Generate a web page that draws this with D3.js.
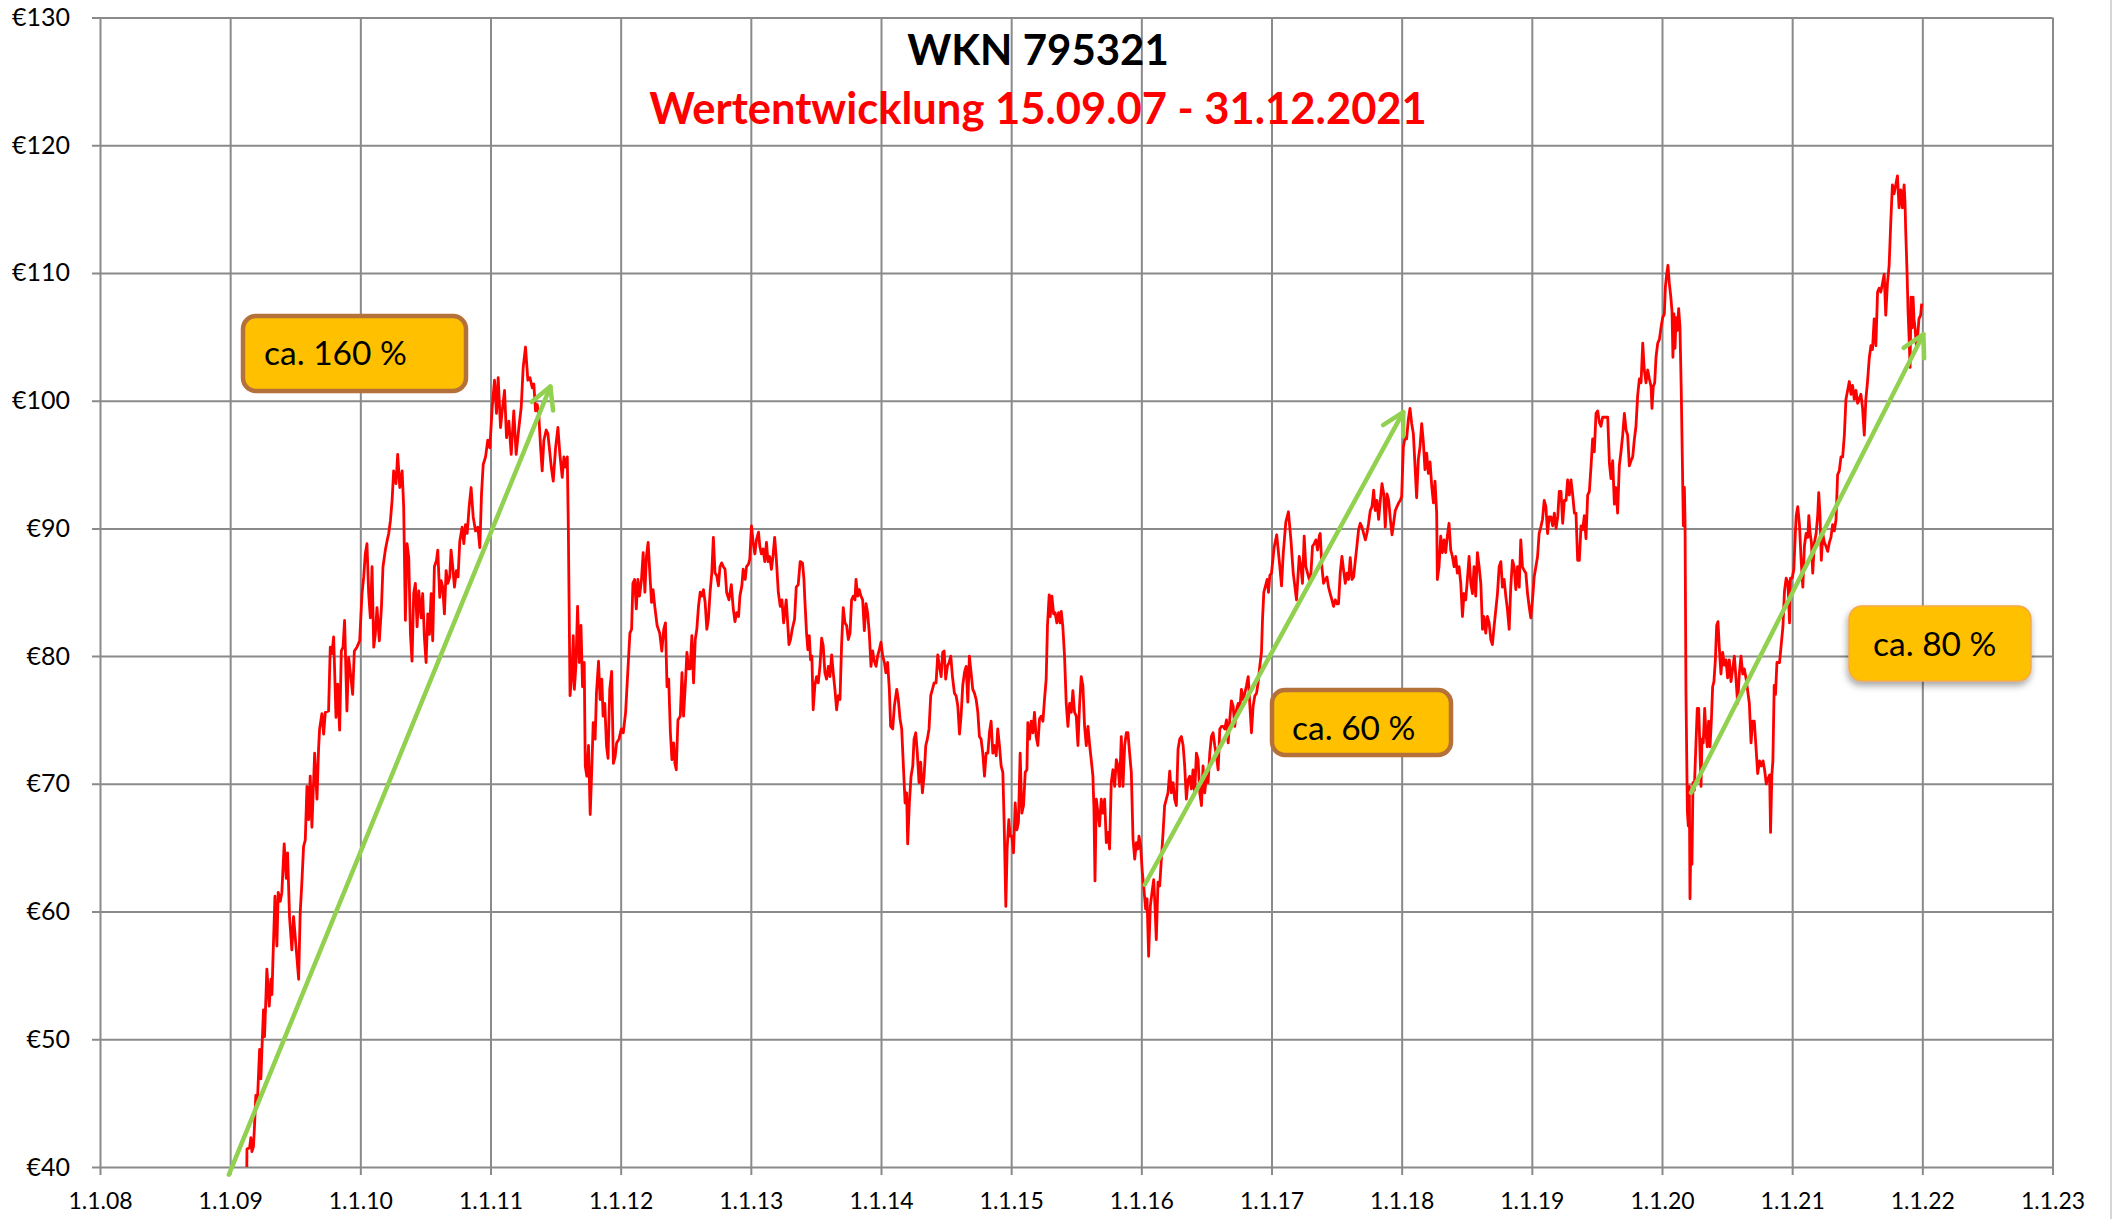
<!DOCTYPE html>
<html><head><meta charset="utf-8">
<script src="https://cdn.jsdelivr.net/npm/d3@7"></script>
<style>
html,body{margin:0;padding:0;background:#fff;}
svg{display:block;font-family:Lato,"Open Sans",sans-serif;}
</style></head>
<body>
<svg id="chart" width="2116" height="1219"></svg>
<script>
// ---------- DATA (decimal year, price in EUR) ----------
const p2009 = [[2009.128,40.0],[2009.129,41.4],[2009.149,41.5],[2009.159,42.3],[2009.167,41.2],[2009.179,41.6],[2009.187,43.2],[2009.197,45.6],[2009.210,45.3],[2009.226,49.2],[2009.236,46.9],[2009.244,49.2],[2009.256,52.3],[2009.264,50.2],[2009.274,53.1],[2009.282,55.5],[2009.300,52.6],[2009.313,54.7],[2009.321,53.5],[2009.328,56.0],[2009.344,61.2],[2009.359,57.3],[2009.369,61.5],[2009.385,60.8],[2009.397,61.5],[2009.415,65.3],[2009.431,62.6],[2009.441,64.6],[2009.456,59.6],[2009.474,57.0],[2009.487,59.6],[2009.508,57.0],[2009.526,54.7],[2009.538,59.9],[2009.551,62.3],[2009.564,65.1],[2009.577,65.6],[2009.590,69.8],[2009.603,67.2],[2009.615,70.6],[2009.628,66.6],[2009.649,72.4],[2009.667,68.8],[2009.679,72.7],[2009.687,74.3],[2009.705,75.5],[2009.718,73.9],[2009.731,75.6],[2009.756,75.7],[2009.769,80.7],[2009.782,80.2],[2009.795,81.5],[2009.813,75.2],[2009.826,77.8],[2009.841,74.2],[2009.854,80.4],[2009.867,80.7],[2009.879,82.8],[2009.897,75.7],[2009.910,79.9],[2009.928,78.3],[2009.941,77.0],[2009.954,80.4],[2009.974,80.7],[2009.995,81.2]];
const p2010 = [[2010.013,84.9],[2010.026,86.2],[2010.038,88.0],[2010.051,88.8],[2010.064,84.9],[2010.077,83.0],[2010.090,87.0],[2010.103,80.7],[2010.115,81.7],[2010.128,83.8],[2010.146,81.2],[2010.162,83.8],[2010.174,87.0],[2010.192,88.3],[2010.205,89.0],[2010.218,89.6],[2010.231,90.6],[2010.244,92.2],[2010.256,94.5],[2010.274,93.5],[2010.287,95.8],[2010.303,93.2],[2010.321,94.5],[2010.333,91.7],[2010.346,82.8],[2010.359,88.8],[2010.372,87.7],[2010.385,81.7],[2010.397,79.6],[2010.410,84.9],[2010.423,85.7],[2010.436,82.3],[2010.449,85.1],[2010.467,83.0],[2010.479,84.9],[2010.492,81.5],[2010.505,79.5],[2010.518,83.3],[2010.531,81.7],[2010.544,84.9],[2010.556,81.2],[2010.569,87.0],[2010.585,87.5],[2010.595,88.3],[2010.610,84.6],[2010.621,85.9],[2010.633,85.4],[2010.646,83.3],[2010.659,86.7],[2010.672,85.7],[2010.687,86.2],[2010.697,88.3],[2010.710,87.0],[2010.723,85.4],[2010.738,86.7],[2010.751,86.2],[2010.764,89.0],[2010.782,90.1],[2010.795,88.8],[2010.808,90.3],[2010.821,89.6],[2010.836,91.7],[2010.851,93.2],[2010.867,90.9],[2010.885,89.8],[2010.903,90.1],[2010.918,88.5],[2010.931,92.7],[2010.944,95.0],[2010.962,95.6],[2010.979,96.9],[2010.995,96.3]];
const p2011 = [[2011.013,99.5],[2011.031,101.6],[2011.046,99.0],[2011.059,101.8],[2011.077,97.9],[2011.090,99.2],[2011.108,100.8],[2011.123,97.1],[2011.141,98.4],[2011.159,95.8],[2011.179,99.2],[2011.197,95.8],[2011.218,97.9],[2011.236,99.5],[2011.251,102.6],[2011.269,104.2],[2011.287,101.6],[2011.303,101.8],[2011.321,101.0],[2011.333,101.3],[2011.346,99.2],[2011.359,99.7],[2011.372,98.7],[2011.385,96.3],[2011.397,94.5],[2011.410,96.9],[2011.428,97.7],[2011.441,97.4],[2011.454,96.1],[2011.467,94.8],[2011.482,93.7],[2011.500,96.3],[2011.518,97.9],[2011.533,95.8],[2011.551,94.0],[2011.564,95.6],[2011.577,94.8],[2011.590,95.6],[2011.598,90.0],[2011.611,76.9],[2011.626,78.7],[2011.636,81.6],[2011.644,77.4],[2011.656,79.2],[2011.669,83.9],[2011.682,79.5],[2011.695,82.4],[2011.707,77.6],[2011.720,79.5],[2011.728,71.4],[2011.740,70.6],[2011.753,73.0],[2011.766,67.6],[2011.779,71.4],[2011.789,74.8],[2011.804,73.5],[2011.814,77.1],[2011.830,79.6],[2011.842,76.6],[2011.855,78.2],[2011.865,75.3],[2011.878,76.3],[2011.891,73.0],[2011.903,72.0],[2011.916,77.4],[2011.931,78.8],[2011.944,71.6],[2011.957,72.1],[2011.969,73.2],[2011.987,73.5]];
const p2012 = [[2012.005,74.3],[2012.020,74.0],[2012.038,75.6],[2012.056,79.0],[2012.071,81.8],[2012.084,82.1],[2012.094,85.7],[2012.107,86.0],[2012.120,83.7],[2012.132,86.0],[2012.145,84.7],[2012.160,86.0],[2012.173,88.1],[2012.186,85.0],[2012.198,87.8],[2012.211,88.9],[2012.224,86.5],[2012.237,84.2],[2012.249,85.2],[2012.262,83.9],[2012.280,82.4],[2012.300,81.8],[2012.316,80.4],[2012.331,82.1],[2012.344,82.6],[2012.356,77.6],[2012.369,78.2],[2012.382,74.0],[2012.394,71.9],[2012.407,73.2],[2012.417,71.6],[2012.427,71.1],[2012.440,75.0],[2012.458,75.3],[2012.471,78.7],[2012.483,75.3],[2012.496,77.6],[2012.509,80.3],[2012.522,79.0],[2012.534,79.0],[2012.547,81.6],[2012.560,77.9],[2012.573,81.3],[2012.585,82.1],[2012.598,83.9],[2012.611,85.0],[2012.623,84.7],[2012.636,85.2],[2012.649,84.2],[2012.662,82.1],[2012.674,82.9],[2012.687,85.0],[2012.700,86.5],[2012.712,89.3],[2012.725,86.5],[2012.738,86.3],[2012.751,85.5],[2012.763,87.0],[2012.776,87.3],[2012.789,87.0],[2012.802,86.8],[2012.814,85.0],[2012.832,84.4],[2012.850,85.6],[2012.865,83.7],[2012.878,82.7],[2012.891,83.4],[2012.906,83.1],[2012.916,84.7],[2012.931,85.5],[2012.941,86.8],[2012.957,86.0],[2012.967,87.0],[2012.982,87.2],[2012.992,87.6]];
const p2013 = [[2013.005,90.2],[2013.018,88.9],[2013.031,88.0],[2013.043,89.1],[2013.059,89.7],[2013.069,88.6],[2013.081,88.0],[2013.094,88.4],[2013.107,87.4],[2013.120,88.9],[2013.132,87.4],[2013.145,87.8],[2013.158,86.8],[2013.170,87.8],[2013.183,89.3],[2013.196,87.6],[2013.211,85.0],[2013.226,83.9],[2013.239,84.4],[2013.252,82.6],[2013.272,84.4],[2013.293,80.9],[2013.305,81.3],[2013.318,82.1],[2013.336,82.9],[2013.349,85.4],[2013.364,85.6],[2013.379,87.4],[2013.397,87.3],[2013.408,86.0],[2013.415,84.4],[2013.428,81.8],[2013.438,80.5],[2013.449,81.6],[2013.459,79.7],[2013.469,80.0],[2013.479,75.8],[2013.492,77.7],[2013.505,78.4],[2013.518,77.9],[2013.531,79.2],[2013.544,81.4],[2013.556,80.8],[2013.569,78.7],[2013.582,78.2],[2013.595,79.2],[2013.608,78.4],[2013.621,80.1],[2013.633,78.7],[2013.646,77.4],[2013.659,75.8],[2013.672,76.9],[2013.685,76.6],[2013.697,80.8],[2013.710,83.8],[2013.723,82.6],[2013.736,82.4],[2013.749,81.3],[2013.762,81.8],[2013.774,84.4],[2013.787,84.7],[2013.800,84.4],[2013.808,86.0],[2013.821,84.7],[2013.833,85.2],[2013.846,84.7],[2013.859,84.4],[2013.872,82.0],[2013.885,84.1],[2013.897,83.4],[2013.910,81.8],[2013.923,79.2],[2013.936,80.4],[2013.946,79.7],[2013.962,79.2],[2013.974,80.0],[2013.987,80.5]];
const p2014 = [[2014.000,81.1],[2014.013,80.0],[2014.026,79.5],[2014.038,78.7],[2014.051,79.5],[2014.064,77.4],[2014.074,74.5],[2014.090,74.3],[2014.103,76.1],[2014.121,77.4],[2014.133,76.6],[2014.146,75.1],[2014.159,74.3],[2014.172,71.4],[2014.185,68.5],[2014.197,69.3],[2014.205,65.3],[2014.218,68.5],[2014.231,70.6],[2014.244,71.4],[2014.254,73.5],[2014.267,74.0],[2014.279,72.4],[2014.292,70.1],[2014.305,71.7],[2014.318,69.3],[2014.331,70.6],[2014.344,73.0],[2014.356,73.5],[2014.369,74.3],[2014.382,76.9],[2014.395,77.4],[2014.408,77.9],[2014.423,77.9],[2014.436,80.1],[2014.449,79.2],[2014.462,78.4],[2014.474,80.3],[2014.485,80.4],[2014.497,78.2],[2014.510,79.2],[2014.523,79.5],[2014.536,80.0],[2014.549,78.4],[2014.564,77.1],[2014.577,76.9],[2014.590,76.1],[2014.603,73.9],[2014.615,75.3],[2014.628,77.7],[2014.641,78.7],[2014.654,79.2],[2014.667,76.4],[2014.679,80.0],[2014.692,78.7],[2014.705,77.4],[2014.718,77.1],[2014.731,76.6],[2014.744,75.6],[2014.756,73.7],[2014.769,73.5],[2014.782,72.4],[2014.795,70.6],[2014.808,72.4],[2014.821,72.4],[2014.833,74.0],[2014.846,74.9],[2014.859,72.4],[2014.872,73.0],[2014.885,72.2],[2014.897,74.3],[2014.910,73.0],[2014.923,71.4],[2014.936,70.9],[2014.946,67.0],[2014.959,60.4],[2014.969,64.9],[2014.982,67.2],[2014.992,65.9]];
const p2015 = [[2015.005,65.9],[2015.018,64.6],[2015.031,68.5],[2015.044,66.4],[2015.056,67.0],[2015.069,72.4],[2015.082,67.7],[2015.095,68.3],[2015.108,70.9],[2015.121,71.1],[2015.128,74.8],[2015.141,73.5],[2015.154,74.9],[2015.167,74.0],[2015.179,75.6],[2015.192,73.7],[2015.205,73.0],[2015.218,75.1],[2015.231,75.3],[2015.244,74.9],[2015.256,76.6],[2015.269,78.2],[2015.279,82.4],[2015.292,84.8],[2015.300,83.1],[2015.313,84.7],[2015.326,83.3],[2015.338,83.4],[2015.351,82.6],[2015.364,83.4],[2015.377,82.6],[2015.385,83.5],[2015.397,82.3],[2015.410,80.0],[2015.423,76.3],[2015.436,74.5],[2015.449,76.3],[2015.462,75.6],[2015.474,77.3],[2015.487,75.6],[2015.500,75.3],[2015.513,73.0],[2015.526,76.3],[2015.538,78.4],[2015.551,77.7],[2015.564,74.5],[2015.577,73.0],[2015.590,74.5],[2015.603,73.0],[2015.615,71.9],[2015.628,70.6],[2015.636,68.0],[2015.644,62.4],[2015.654,68.8],[2015.667,67.7],[2015.679,66.7],[2015.692,68.8],[2015.705,67.7],[2015.718,68.8],[2015.731,65.4],[2015.744,66.2],[2015.756,64.9],[2015.769,70.1],[2015.782,71.1],[2015.795,69.8],[2015.808,71.9],[2015.821,71.4],[2015.833,69.8],[2015.846,73.7],[2015.859,69.8],[2015.872,73.0],[2015.885,74.0],[2015.897,74.0],[2015.910,72.4],[2015.923,70.9],[2015.936,65.7],[2015.949,64.1],[2015.962,65.4],[2015.974,64.9],[2015.982,65.9],[2015.995,65.1]];
const p2016 = [[2016.008,63.0],[2016.018,62.0],[2016.033,60.2],[2016.044,61.0],[2016.056,56.5],[2016.069,60.4],[2016.082,61.5],[2016.095,62.5],[2016.105,60.4],[2016.115,57.8],[2016.128,62.3],[2016.141,62.0],[2016.154,64.1],[2016.167,66.2],[2016.179,68.3],[2016.192,68.8],[2016.205,69.3],[2016.218,71.0],[2016.231,69.3],[2016.244,70.1],[2016.256,68.8],[2016.269,68.3],[2016.282,72.7],[2016.295,73.5],[2016.308,73.7],[2016.321,73.0],[2016.333,71.4],[2016.346,68.8],[2016.359,70.3],[2016.372,70.6],[2016.385,69.6],[2016.397,71.1],[2016.410,69.3],[2016.423,72.4],[2016.436,71.9],[2016.449,69.3],[2016.462,68.3],[2016.474,71.4],[2016.487,69.3],[2016.500,70.6],[2016.513,70.1],[2016.526,72.4],[2016.538,73.7],[2016.551,74.0],[2016.564,73.0],[2016.577,72.2],[2016.590,71.1],[2016.603,74.3],[2016.615,74.5],[2016.628,74.5],[2016.641,74.3],[2016.654,75.0],[2016.667,73.2],[2016.679,75.0],[2016.692,76.5],[2016.705,76.1],[2016.718,74.5],[2016.731,75.8],[2016.744,76.3],[2016.756,75.8],[2016.769,77.4],[2016.782,76.6],[2016.795,77.1],[2016.808,77.7],[2016.821,78.4],[2016.833,76.3],[2016.846,74.0],[2016.859,76.1],[2016.872,76.9],[2016.885,77.1],[2016.897,77.9],[2016.910,79.2],[2016.923,80.3],[2016.931,82.9],[2016.941,85.0],[2016.954,85.5],[2016.967,86.0],[2016.977,85.0],[2016.987,86.3]];
const p2017 = [[2017.000,86.5],[2017.020,88.5],[2017.040,89.5],[2017.064,87.0],[2017.077,85.5],[2017.090,88.0],[2017.110,90.5],[2017.130,91.3],[2017.150,89.0],[2017.167,86.5],[2017.192,84.4],[2017.205,86.5],[2017.213,87.8],[2017.226,87.0],[2017.238,85.7],[2017.251,89.4],[2017.264,87.0],[2017.277,86.5],[2017.290,86.0],[2017.303,86.5],[2017.315,88.6],[2017.328,88.8],[2017.341,89.1],[2017.354,88.3],[2017.367,89.4],[2017.374,89.6],[2017.387,87.0],[2017.400,85.7],[2017.413,86.0],[2017.426,86.2],[2017.438,85.4],[2017.451,84.9],[2017.464,84.4],[2017.477,83.9],[2017.490,84.4],[2017.503,84.1],[2017.515,84.1],[2017.528,86.5],[2017.541,87.8],[2017.554,86.7],[2017.567,85.7],[2017.579,86.5],[2017.592,86.0],[2017.605,87.7],[2017.618,86.0],[2017.631,86.2],[2017.644,87.5],[2017.656,88.6],[2017.669,89.9],[2017.682,90.4],[2017.695,90.1],[2017.708,89.6],[2017.721,89.1],[2017.733,89.6],[2017.746,90.4],[2017.759,91.4],[2017.772,91.7],[2017.785,93.0],[2017.797,91.4],[2017.810,92.2],[2017.823,90.7],[2017.836,92.2],[2017.849,93.5],[2017.862,92.7],[2017.874,90.1],[2017.887,92.7],[2017.900,92.2],[2017.913,90.7],[2017.926,89.5],[2017.938,90.4],[2017.951,91.4],[2017.964,91.7],[2017.977,92.0],[2017.990,92.2]];
const p2018 = [[2018.000,92.5],[2018.013,96.4],[2018.026,97.1],[2018.038,97.0],[2018.051,98.5],[2018.064,99.4],[2018.077,98.2],[2018.090,97.4],[2018.103,94.8],[2018.115,92.4],[2018.128,95.4],[2018.141,96.4],[2018.154,98.2],[2018.167,96.7],[2018.179,94.6],[2018.192,95.9],[2018.205,94.3],[2018.218,95.2],[2018.231,93.3],[2018.244,92.0],[2018.256,93.7],[2018.269,91.2],[2018.274,86.0],[2018.287,87.0],[2018.300,89.4],[2018.313,88.1],[2018.326,89.1],[2018.338,88.1],[2018.351,89.4],[2018.364,90.4],[2018.377,88.3],[2018.390,87.8],[2018.403,87.0],[2018.415,87.8],[2018.428,86.5],[2018.441,87.0],[2018.454,85.7],[2018.467,83.1],[2018.479,84.9],[2018.492,84.4],[2018.505,86.0],[2018.518,87.8],[2018.531,85.7],[2018.544,84.9],[2018.556,87.0],[2018.569,84.7],[2018.582,88.1],[2018.595,87.0],[2018.608,85.7],[2018.621,82.1],[2018.633,83.1],[2018.646,81.8],[2018.659,83.1],[2018.672,82.6],[2018.685,81.3],[2018.697,80.9],[2018.710,82.3],[2018.723,83.6],[2018.736,84.9],[2018.749,87.0],[2018.762,87.4],[2018.774,85.4],[2018.787,86.0],[2018.800,84.7],[2018.813,83.6],[2018.826,82.1],[2018.838,85.4],[2018.851,87.5],[2018.864,87.0],[2018.877,85.2],[2018.890,87.0],[2018.903,85.4],[2018.915,89.1],[2018.928,87.0],[2018.941,86.7],[2018.954,86.5],[2018.967,84.9],[2018.979,83.9],[2018.992,83.0]];
const p2019 = [[2019.005,84.4],[2019.018,86.2],[2019.031,87.0],[2019.044,87.8],[2019.056,89.6],[2019.069,90.1],[2019.082,90.7],[2019.095,92.2],[2019.108,91.7],[2019.121,89.6],[2019.133,90.9],[2019.147,90.9],[2019.160,90.2],[2019.173,91.2],[2019.186,90.0],[2019.199,90.9],[2019.211,92.9],[2019.224,92.9],[2019.237,90.4],[2019.250,92.2],[2019.263,92.2],[2019.275,93.8],[2019.288,92.6],[2019.301,93.8],[2019.314,92.6],[2019.327,91.2],[2019.339,91.2],[2019.352,87.5],[2019.365,87.5],[2019.378,90.2],[2019.391,89.9],[2019.403,91.0],[2019.416,89.2],[2019.429,92.6],[2019.442,92.9],[2019.455,94.9],[2019.467,97.0],[2019.480,96.0],[2019.493,99.0],[2019.506,99.2],[2019.519,98.3],[2019.531,98.0],[2019.544,98.7],[2019.570,98.7],[2019.583,98.7],[2019.596,95.1],[2019.608,93.9],[2019.621,95.3],[2019.634,91.9],[2019.647,93.2],[2019.659,91.2],[2019.672,94.9],[2019.685,96.0],[2019.698,97.3],[2019.711,99.0],[2019.724,97.7],[2019.736,97.3],[2019.749,94.9],[2019.762,95.3],[2019.775,95.6],[2019.788,97.0],[2019.800,98.0],[2019.813,100.4],[2019.826,101.7],[2019.839,101.4],[2019.852,104.5],[2019.864,102.4],[2019.877,101.4],[2019.890,102.4],[2019.903,101.7],[2019.916,101.1],[2019.923,99.4],[2019.933,101.1],[2019.944,101.4],[2019.954,103.4],[2019.967,104.5],[2019.980,104.8],[2019.992,105.7]];
const p2020 = [[2020.005,106.5],[2020.018,106.8],[2020.026,108.9],[2020.036,109.9],[2020.046,110.6],[2020.056,109.2],[2020.067,108.2],[2020.077,107.0],[2020.084,103.4],[2020.092,106.8],[2020.100,104.1],[2020.108,106.5],[2020.118,105.5],[2020.128,107.2],[2020.138,105.8],[2020.148,100.7],[2020.156,95.6],[2020.164,90.2],[2020.172,93.2],[2020.177,90.5],[2020.184,77.3],[2020.195,67.8],[2020.202,66.7],[2020.210,69.8],[2020.215,61.0],[2020.223,66.4],[2020.230,63.7],[2020.238,70.1],[2020.248,69.5],[2020.261,73.2],[2020.271,75.9],[2020.282,75.9],[2020.292,72.5],[2020.300,69.8],[2020.307,73.5],[2020.317,73.2],[2020.328,75.9],[2020.338,73.9],[2020.348,72.9],[2020.358,74.9],[2020.369,72.9],[2020.379,74.9],[2020.389,77.6],[2020.399,78.0],[2020.410,79.7],[2020.420,82.4],[2020.430,82.7],[2020.440,80.7],[2020.453,78.6],[2020.466,80.3],[2020.479,79.3],[2020.492,79.7],[2020.504,78.3],[2020.517,79.7],[2020.530,78.0],[2020.543,79.0],[2020.556,80.0],[2020.568,78.3],[2020.581,76.3],[2020.594,78.6],[2020.607,80.0],[2020.620,78.6],[2020.632,79.0],[2020.645,78.3],[2020.658,77.3],[2020.671,76.3],[2020.684,73.2],[2020.696,74.9],[2020.709,74.9],[2020.722,72.9],[2020.735,70.8],[2020.750,71.8],[2020.763,71.4],[2020.776,71.8],[2020.788,71.1],[2020.801,70.0],[2020.814,70.4],[2020.827,70.7],[2020.834,66.2],[2020.844,70.7],[2020.852,71.8],[2020.862,77.7],[2020.872,77.0],[2020.883,79.5],[2020.893,79.5],[2020.903,79.5],[2020.916,80.9],[2020.929,82.3],[2020.941,85.1],[2020.954,86.1],[2020.967,85.8],[2020.980,82.6],[2020.987,86.1]];
const p2021 = [[2021.000,86.1],[2021.013,86.8],[2021.023,89.3],[2021.031,91.0],[2021.043,91.7],[2021.056,90.3],[2021.069,87.5],[2021.082,85.4],[2021.094,88.6],[2021.107,89.6],[2021.120,89.3],[2021.128,91.0],[2021.138,89.6],[2021.148,88.9],[2021.158,86.5],[2021.171,88.9],[2021.184,89.6],[2021.196,91.0],[2021.204,92.8],[2021.214,91.0],[2021.224,87.5],[2021.235,89.6],[2021.247,88.9],[2021.260,88.6],[2021.273,88.2],[2021.286,88.9],[2021.298,89.3],[2021.311,90.3],[2021.324,89.8],[2021.337,90.7],[2021.349,94.2],[2021.362,94.5],[2021.375,95.6],[2021.388,95.6],[2021.401,97.3],[2021.413,100.1],[2021.426,100.8],[2021.439,101.5],[2021.452,100.5],[2021.464,101.2],[2021.477,100.1],[2021.490,100.8],[2021.503,99.8],[2021.515,100.1],[2021.528,100.5],[2021.541,99.4],[2021.554,97.3],[2021.566,100.1],[2021.579,101.5],[2021.592,103.3],[2021.605,104.3],[2021.617,104.0],[2021.630,106.4],[2021.643,104.3],[2021.656,108.5],[2021.668,108.8],[2021.681,108.5],[2021.694,109.2],[2021.707,109.9],[2021.719,106.7],[2021.732,109.2],[2021.745,110.6],[2021.758,114.1],[2021.770,116.9],[2021.783,116.2],[2021.796,116.9],[2021.809,117.6],[2021.821,115.1],[2021.834,116.5],[2021.847,115.1],[2021.860,116.9],[2021.867,115.5],[2021.872,113.4],[2021.883,109.9],[2021.890,107.1],[2021.898,105.0],[2021.906,102.6],[2021.913,108.1],[2021.921,105.7],[2021.929,108.1],[2021.936,106.4],[2021.944,105.7],[2021.954,104.3],[2021.964,105.0],[2021.974,106.4],[2021.987,106.7],[2021.995,107.6]];

const yearTicks = [2008,2009,2010,2011,2012,2013,2014,2015,2016,2017,2018,2019,2020,2021,2022,2023];
const xTickLabels = ["1.1.08","1.1.09","1.1.10","1.1.11","1.1.12","1.1.13","1.1.14","1.1.15","1.1.16","1.1.17","1.1.18","1.1.19","1.1.20","1.1.21","1.1.22","1.1.23"];
const priceTicks = [40,50,60,70,80,90,100,110,120,130];
const priceTickLabels = ["€40","€50","€60","€70","€80","€90","€100","€110","€120","€130"];

const titleText = "WKN 795321";
const subtitleText = "Wertentwicklung 15.09.07 - 31.12.2021";

// trend arrows: [startYear, startPrice, endYear, endPrice]
const trendArrows = [[2008.99, 39.4, 2011.46, 101.1],[2016.026, 62.1, 2018.012, 99.1],[2020.223, 69.3, 2022.008, 105.2]];
const annotationLabels = ["ca. 160 %", "ca. 60 %", "ca. 80 %"];

// ---------- LAYOUT ----------
const W = 2116, H = 1219;
const L = 100, R = 2052.5, T = 17.5, B = 1167;
const gridColor = "#8a8a8a";
const boxLayout = [
  {x:241, y:314, w:227, h:79, tx:264, ty:365, style:"thick"},
  {x:1270, y:688, w:183, h:69, tx:1292, ty:740, style:"thick"},
  {x:1849, y:606, w:182, h:75, tx:1873, ty:656, style:"shadow"}
];

const svg = d3.select("#chart");
const defs = svg.append("defs");
defs.append("clipPath").attr("id","plotclip").append("rect")
  .attr("x",L).attr("y",T).attr("width",R-L).attr("height",B-T);
const f = defs.append("filter").attr("id","shadow").attr("x","-20%").attr("y","-20%").attr("width","150%").attr("height","160%");
f.append("feDropShadow").attr("dx",-1).attr("dy",4).attr("stdDeviation",3.5).attr("flood-color","#000").attr("flood-opacity",0.35);

svg.append("rect").attr("width",W).attr("height",H).attr("fill","#fff");
svg.append("line").attr("x1",2111).attr("x2",2111).attr("y1",0).attr("y2",H).attr("stroke","#c8c8c8").attr("stroke-width",1.5);

const x = d3.scaleLinear().domain([2008,2023]).range([L,R]);
const y = d3.scaleLinear().domain([40,130]).range([B,T]);

// Y axis with gridlines
const yAxis = d3.axisLeft(y).tickValues(priceTicks)
  .tickFormat((d,i)=>priceTickLabels[i])
  .tickSizeInner(-(R-L)).tickSizeOuter(0).tickPadding(30);
const gy = svg.append("g").attr("transform",`translate(${L},0)`).call(yAxis);
gy.select(".domain").remove();
gy.selectAll("line").attr("x1",-8).attr("stroke",gridColor).attr("stroke-width",2);
gy.selectAll("text").attr("font-size",25).attr("fill","#000").attr("font-family","Lato, sans-serif");

// X axis with gridlines
const xAxis = d3.axisBottom(x).tickValues(yearTicks)
  .tickFormat((d,i)=>xTickLabels[i])
  .tickSizeInner(-(B-T)).tickSizeOuter(0).tickPadding(26);
const gx = svg.append("g").attr("transform",`translate(0,${B})`).call(xAxis);
gx.select(".domain").remove();
gx.selectAll("line").attr("y1",8).attr("stroke",gridColor).attr("stroke-width",2);
gx.selectAll("text").attr("font-size",23).attr("fill","#000").attr("font-family","Lato, sans-serif");

// price line
const series = [].concat(p2009,p2010,p2011,p2012,p2013,p2014,p2015,p2016,p2017,p2018,p2019,p2020,p2021);
const line = d3.line().x(d=>x(d[0])).y(d=>y(d[1]));
svg.append("path").datum(series)
  .attr("clip-path","url(#plotclip)")
  .attr("d",line).attr("fill","none").attr("stroke","#ff0000")
  .attr("stroke-width",2.8).attr("stroke-linejoin","round");

// title
svg.append("text").attr("x",1038).attr("y",65).attr("text-anchor","middle")
  .attr("font-size",42).attr("font-weight",700).attr("fill","#000").text(titleText);
svg.append("text").attr("x",1038).attr("y",124).attr("text-anchor","middle")
  .attr("font-size",43.5).attr("font-weight",700).attr("fill","#ff0000").text(subtitleText);

// arrows
const ag = svg.append("g").attr("stroke","#92d050").attr("fill","none")
  .attr("stroke-width",4.5).attr("stroke-linecap","round").attr("stroke-linejoin","round");
trendArrows.forEach(a=>{
  const x1=x(a[0]), y1=y(a[1]), x2=x(a[2]), y2=y(a[3]);
  ag.append("line").attr("x1",x1).attr("y1",y1).attr("x2",x2).attr("y2",y2);
  const ang = Math.atan2(y1-y2, x1-x2), len=24, spread=0.5;
  const p1=[x2+len*Math.cos(ang+spread), y2+len*Math.sin(ang+spread)];
  const p2=[x2+len*Math.cos(ang-spread), y2+len*Math.sin(ang-spread)];
  ag.append("path").attr("d",`M${p1[0]},${p1[1]}L${x2},${y2}L${p2[0]},${p2[1]}`);
});

// annotation boxes
annotationLabels.forEach((lab,i)=>{
  const b = boxLayout[i];
  const g = svg.append("g");
  if (b.style==="thick") {
    g.append("rect").attr("x",b.x+2).attr("y",b.y+2).attr("width",b.w-4).attr("height",b.h-4)
      .attr("rx",13).attr("fill","#ffc000").attr("stroke","#b5713a").attr("stroke-width",4.5);
  } else {
    g.append("rect").attr("x",b.x).attr("y",b.y).attr("width",b.w).attr("height",b.h)
      .attr("rx",13).attr("fill","#ffc000").attr("stroke","#f4a94a").attr("stroke-width",1.5)
      .attr("filter","url(#shadow)");
  }
  g.append("text").attr("x",b.tx).attr("y",b.ty).attr("font-size",33.5)
    .attr("fill","#000").text(lab);
});
</script>
</body></html>
